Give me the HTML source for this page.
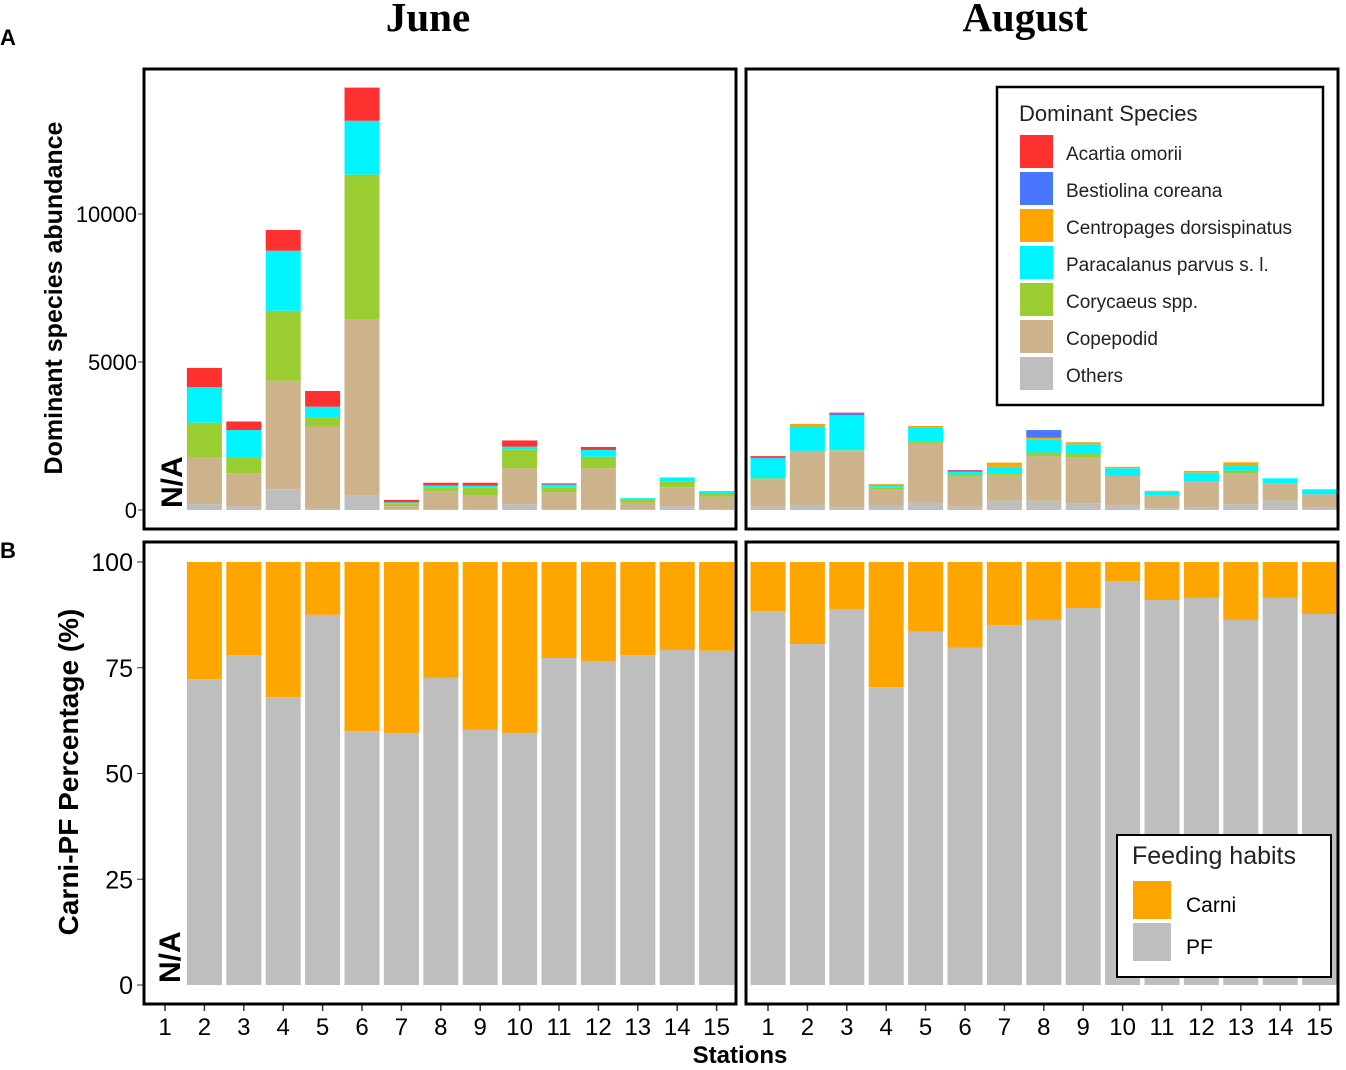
<!DOCTYPE html>
<html><head><meta charset="utf-8"><style>
html,body{margin:0;padding:0;background:#fff;}
svg{display:block;font-family:"Liberation Sans",Arial,sans-serif;}
</style></head><body>
<svg id="c" width="1346" height="1070" viewBox="0 0 1346 1070" xmlns="http://www.w3.org/2000/svg">
<text x="428" y="31" font-family="Liberation Serif,serif" font-weight="bold" font-size="41" text-anchor="middle">June</text>
<text x="1025" y="31" font-family="Liberation Serif,serif" font-weight="bold" font-size="41" text-anchor="middle">August</text>
<text x="0" y="45" font-weight="bold" font-size="22">A</text>
<text x="0" y="558" font-weight="bold" font-size="22">B</text>
<text transform="translate(62,298) rotate(-90)" font-weight="bold" font-size="25" text-anchor="middle">Dominant species abundance</text>
<text transform="translate(78,772) rotate(-90)" font-weight="bold" font-size="28" text-anchor="middle">Carni-PF Percentage (%)</text>
<text x="740" y="1063" font-weight="bold" font-size="24" text-anchor="middle">Stations</text>
<g id="marks"></g>
<rect x="144" y="69" width="592" height="460" fill="none" stroke="#000" stroke-width="3"/>
<rect x="746" y="69" width="592" height="460" fill="none" stroke="#000" stroke-width="3"/>
<rect x="144" y="542" width="592" height="462" fill="none" stroke="#000" stroke-width="3"/>
<rect x="746" y="542" width="592" height="462" fill="none" stroke="#000" stroke-width="3"/>
<text transform="translate(182,508) rotate(-90)" font-weight="bold" font-size="30">N/A</text>
<text transform="translate(180,983) rotate(-90)" font-weight="bold" font-size="30">N/A</text>
<g>
<rect x="997" y="87" width="326" height="318" fill="#fff" stroke="#000" stroke-width="2.5"/>
<text x="1019" y="121" font-size="22" fill="#222">Dominant Species</text>
<g id="leg1"></g>
</g>
<g>
<rect x="1117" y="835" width="214" height="142" fill="#fff" stroke="#000" stroke-width="2"/>
<text x="1132" y="864" font-size="25" fill="#222">Feeding habits</text>
<rect x="1133" y="881" width="38" height="38" fill="#FFA500"/><text x="1186" y="912" font-size="21">Carni</text>
<rect x="1133" y="923" width="38" height="38" fill="#BEBEBE"/><text x="1186" y="954" font-size="21">PF</text>
</g>
</svg>
<script>
const species = ["Others","Copepodid","Corycaeus spp.","Paracalanus parvus s. l.","Centropages dorsispinatus","Bestiolina coreana","Acartia omorii"];
const colors = ["#BEBEBE","#CDB38B","#9ACD32","#00F5FF","#FFA500","#4876FF","#FF3030"];
const stations = [1,2,3,4,5,6,7,8,9,10,11,12,13,14,15];
const juneOthers = [null,200,130,700,50,480,10,20,20,190,20,30,20,130,20];
const juneCopepodid = [null,1570,1110,3670,2770,5970,120,620,460,1220,580,1380,230,640,430];
const juneCorycaeus = [null,1180,530,2360,300,4880,80,130,270,640,150,390,90,190,90];
const juneParacalanus = [null,1200,930,2030,370,1820,50,60,70,90,110,230,60,140,100];
const juneCentropages = [null,0,0,0,0,0,0,0,0,0,0,0,0,0,0];
const juneBestiolina = [null,0,0,0,0,0,0,0,0,0,0,0,0,0,0];
const juneAcartia = [null,650,290,700,530,1120,80,90,100,210,40,100,0,0,0];
const augOthers = [110,170,100,150,250,110,310,310,230,140,60,100,190,310,100];
const augCopepodid = [930,1830,1900,560,2000,1020,870,1510,1550,1010,410,880,1050,590,430];
const augCorycaeus = [30,0,20,60,60,70,60,120,110,0,30,0,90,0,0];
const augParacalanus = [680,820,1190,80,480,90,220,450,330,260,120,280,190,170,170];
const augCentropages = [0,90,0,30,50,0,140,50,70,50,30,60,90,0,0];
const augBestiolina = [40,0,40,0,0,40,0,260,0,0,0,0,0,0,0];
const augAcartia = [30,0,40,0,0,20,0,0,0,0,0,0,0,0,0];
const yTicksTop = [0,5000,10000];
const yTicksBottom = [0,25,50,75,100];
const junePF = [null,72.3,78,68,87.5,60,59.6,72.6,60.3,59.6,77.3,76.6,78,79.2,79];
const augPF = [88.4,80.6,88.9,70.4,83.5,79.7,85.1,86.3,89.1,95.5,91,91.5,86.3,91.5,87.7];

const NS="http://www.w3.org/2000/svg";
const g=document.getElementById('marks');
function mk(t,a){const e=document.createElementNS(NS,t);for(const k in a)e.setAttribute(k,a[k]);return e;}
const panels=[{x0:165,name:'june'},{x0:768,name:'august'}];
const step=39.4, bw=35;
function xS(p,i){return panels[p].x0+i*step;}
function yTop(v){return 510-v*0.0296;}
function yBot(v){return 985-v*4.23;}
const series=[[juneOthers,juneCopepodid,juneCorycaeus,juneParacalanus,juneCentropages,juneBestiolina,juneAcartia],[augOthers,augCopepodid,augCorycaeus,augParacalanus,augCentropages,augBestiolina,augAcartia]];
const pfs=[junePF,augPF];
for(let p=0;p<2;p++){
  stations.forEach((s,i)=>{
    const cx=xS(p,i);
    if(series[p][0][i]!==null){
      let cum=0;
      for(let k=0;k<species.length;k++){
        const v=series[p][k][i]; if(!v) continue;
        const r=mk('rect',{x:cx-bw/2,y:yTop(cum+v),width:bw,height:yTop(cum)-yTop(cum+v),fill:colors[k]});
        
        
        g.appendChild(r); cum+=v;
      }
    }
    const pf=pfs[p][i];
    if(pf!==null){
      const r1=mk('rect',{x:cx-bw/2,y:yBot(100),width:bw,height:yBot(pf)-yBot(100),fill:'#FFA500'});
      
      
      g.appendChild(r1);
      const r2=mk('rect',{x:cx-bw/2,y:yBot(pf),width:bw,height:yBot(0)-yBot(pf),fill:'#BEBEBE'});
      
      
      g.appendChild(r2);
    }
    const tk=mk('line',{x1:cx,x2:cx,y1:1005,y2:1011,stroke:'#333','stroke-width':1.5});
    
    
    g.appendChild(tk);
    const t=mk('text',{x:cx,y:1035,'font-size':24,'text-anchor':'middle'});
    t.textContent=s;
    
    
    g.appendChild(t);
  });
}
yTicksTop.forEach(v=>{
  const t=mk('text',{x:137,y:yTop(v)+8,'font-size':22,'text-anchor':'end'});t.textContent=v;
  
  
  g.appendChild(t);
  const l=mk('line',{x1:138,x2:143,y1:yTop(v),y2:yTop(v),stroke:'#333'});
  
  
  g.appendChild(l);
});
yTicksBottom.forEach(v=>{
  const t=mk('text',{x:133,y:yBot(v)+9,'font-size':25,'text-anchor':'end'});t.textContent=v;
  
  
  g.appendChild(t);
  const l=mk('line',{x1:137,x2:143,y1:yBot(v),y2:yBot(v),stroke:'#333'});
  
  
  g.appendChild(l);
});
const leg=document.getElementById('leg1');
const legOrder=[6,5,4,3,2,1,0];
legOrder.forEach((k,j)=>{
  const y=135+j*37;
  const r=mk('rect',{x:1020,y:y,width:33,height:33,fill:colors[k]});
  
  
  leg.appendChild(r);
  const t=mk('text',{x:1066,y:y+25,'font-size':19,fill:'#222'});t.textContent=species[k];
  
  
  leg.appendChild(t);
});
</script>
</body></html>
